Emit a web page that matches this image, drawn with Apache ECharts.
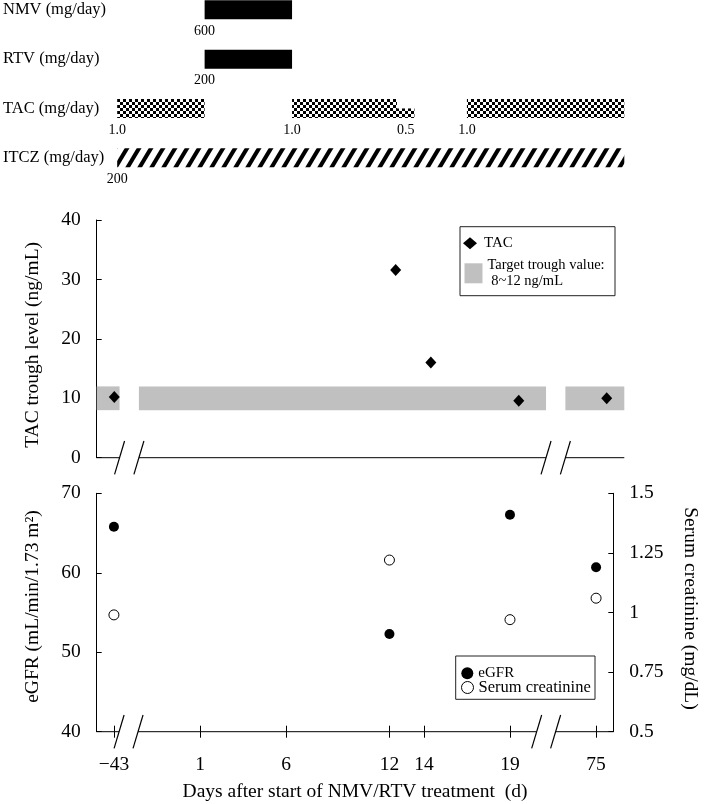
<!DOCTYPE html>
<html><head><meta charset="utf-8">
<script src="https://cdn.jsdelivr.net/npm/echarts@6/dist/echarts.min.js"></script>
<style>html,body{margin:0;padding:0;background:#fff}#c{width:708px;height:804px}</style>
</head><body><div id="c"></div>
<script>
const FONT = "'Liberation Serif','Times New Roman',serif";

// ---------- data ----------
const regimenRows = ['NMV (mg/day)', 'RTV (mg/day)', 'TAC (mg/day)', 'ITCZ (mg/day)'];
// [startDay, endDay, dose]
const nmvDoses = [[1, 6, 600]];
const rtvDoses = [[1, 6, 200]];
const tacDoses = [[-43, 1, 1.0], [6, 12, 1.0], [12, 13, 0.5], [16, 76, 1.0]];
const itczDoses = [[-43, 76, 200]];

const dayTicks = [-43, 1, 6, 12, 14, 19, 75];
const dayTickLabels = ['\u221243', '1', '6', '12', '14', '19', '75'];

const tacDays = [-43, 12, 14, 19, 75];
const tacTrough = [10.2, 31.6, 16.0, 9.6, 10.0];
const targetTrough = [8, 12];

const renalDays = [-43, 12, 19, 75];
const egfr = [65.8, 52.3, 67.3, 60.7];
const creatinine = [0.99, 1.22, 0.97, 1.06];

// ---------- broken time axis ----------
function xPos(day) { if (day < -20) return day + 39; if (day > 40) return day - 51; return day; }
const X_MIN = -5, X_MAX = 25;
const breakGaps = [[-3.7, -2.6], [20.55, 21.65]];
const axisSegments = [[X_MIN, breakGaps[0][0]], [breakGaps[0][1], breakGaps[1][0]], [breakGaps[1][1], X_MAX]];
const tickPos = dayTicks.map(xPos);

// ---------- patterns ----------
function checkerCanvas() {
  const c = document.createElement('canvas'); c.width = 6; c.height = 6;
  const g = c.getContext('2d');
  g.fillStyle = '#fff'; g.fillRect(0, 0, 6, 6);
  g.fillStyle = '#000'; g.fillRect(0, 0, 3, 3); g.fillRect(3, 3, 3, 3);
  return c;
}
function hatchCanvas() {
  const W = 12, H = 20;
  const c = document.createElement('canvas'); c.width = W; c.height = H;
  const g = c.getContext('2d');
  g.fillStyle = '#fff'; g.fillRect(0, 0, W, H);
  g.strokeStyle = '#000'; g.lineWidth = 4;
  [-W, 0, W].forEach(x0 => {
    g.beginPath(); g.moveTo(x0 - W * 0.5, H * 1.5); g.lineTo(x0 + W * 1.5, -H * 0.5); g.stroke();
  });
  return c;
}
const checkerFill = { image: checkerCanvas(), repeat: 'repeat' };
const hatchFill = { image: hatchCanvas(), repeat: 'repeat' };

function regimenSeries(rowIdx, doses, fill, fullDose, fmt) {
  return {
    type: 'custom', xAxisIndex: 0, yAxisIndex: 0, clip: false, silent: true,
    data: doses.map(d => [xPos(d[0]), xPos(d[1]), d[2]]),
    renderItem(params, api) {
      const a = api.coord([api.value(0), rowIdx]);
      const b = api.coord([api.value(1), rowIdx]);
      const full = 19;
      const h = full * api.value(2) / fullDose;
      const bottom = a[1] + full / 2;
      const w = b[0] - a[0];
      const lx = w < 30 ? a[0] + w / 2 : a[0];
      return {
        type: 'group', children: [
          { type: 'rect', shape: { x: a[0], y: bottom - h, width: w, height: h }, style: { fill: fill } },
          { type: 'text', style: { x: lx, y: bottom + 12, text: fmt(doses[params.dataIndex][2]), font: '14px ' + FONT, fill: '#000', align: 'center', verticalAlign: 'middle' } }
        ]
      };
    }
  };
}

function brokenAxis(xi, yi, yBase) {
  return {
    type: 'custom', xAxisIndex: xi, yAxisIndex: yi, clip: false, silent: true, z: 5,
    data: [[0]],
    renderItem(params, api) {
      const children = [];
      axisSegments.forEach(s => {
        const a = api.coord([s[0], yBase]), b = api.coord([s[1], yBase]);
        children.push({ type: 'line', shape: { x1: a[0], y1: a[1], x2: b[0], y2: b[1] }, style: { stroke: '#000', lineWidth: 1 } });
      });
      breakGaps.flat().forEach(x => {
        const p = api.coord([x, yBase]);
        children.push({ type: 'line', shape: { x1: p[0] - 5, y1: p[1] + 16.7, x2: p[0] + 5, y2: p[1] - 16.7 }, style: { stroke: '#000', lineWidth: 1.2 } });
      });
      return { type: 'group', children };
    }
  };
}

const axisText = { color: '#000', fontSize: 19.5, fontFamily: FONT };
const blackLine = { lineStyle: { color: '#000', width: 1 } };
const TARGET_NAME = 'Target trough value:\n 8~12 ng/mL';

const option = {
  animation: false,
  backgroundColor: '#fff',
  textStyle: { fontFamily: FONT },
  grid: [
    { left: 96.7, right: 83.7, top: 0, height: 182.4 },
    { left: 96.7, right: 83.7, top: 220, bottom: 346.3 },
    { left: 96.7, right: 83.7, top: 493.3, bottom: 72.3 }
  ],
  xAxis: [
    { gridIndex: 0, type: 'value', min: X_MIN, max: X_MAX, show: false },
    { gridIndex: 1, type: 'value', position: 'bottom', min: X_MIN, max: X_MAX, axisLine: { show: false, onZero: false }, axisTick: { show: false }, axisLabel: { show: false }, splitLine: { show: false } },
    {
      gridIndex: 2, type: 'value', position: 'bottom', min: X_MIN, max: X_MAX, axisLine: { show: false, onZero: false }, splitLine: { show: false },
      axisTick: { show: true, customValues: tickPos, length: 6, lineStyle: { color: '#000' } },
      axisLabel: Object.assign({ customValues: tickPos, margin: 23, formatter: v => { const i = tickPos.findIndex(p => Math.abs(p - v) < 1e-6); return i >= 0 ? dayTickLabels[i] : ''; } }, axisText),
      name: 'Days after start of NMV/RTV treatment  (d)', nameLocation: 'middle', nameGap: 50,
      nameTextStyle: axisText
    },
    {
      gridIndex: 2, type: 'value', position: 'bottom', min: X_MIN, max: X_MAX, axisLine: { show: false, onZero: false }, splitLine: { show: false },
      axisLabel: { show: false },
      axisTick: { show: true, inside: true, customValues: tickPos, length: 6, lineStyle: { color: '#000' } }
    }
  ],
  yAxis: [
    {
      gridIndex: 0, type: 'value', min: -0.2, max: 3.5, inverse: true,
      axisLine: { show: false, onZero: false }, axisTick: { show: false }, splitLine: { show: false },
      axisLabel: { customValues: [0, 1, 2, 3], formatter: v => regimenRows[Math.round(v)], align: 'left', margin: 96.7, color: '#000', fontSize: 16.5, fontFamily: FONT }
    },
    {
      gridIndex: 1, type: 'value', min: 0, max: 40, interval: 10,
      axisLine: Object.assign({ show: true, onZero: false }, blackLine), axisTick: Object.assign({ show: true, inside: true, length: 5 }, blackLine),
      splitLine: { show: false }, axisLabel: Object.assign({ margin: 16 }, axisText),
      name: 'TAC trough level (ng/mL)', nameLocation: 'middle', nameGap: 53.7,
      nameTextStyle: Object.assign({ padding: [0, 12, 0, 0] }, axisText)
    },
    {
      gridIndex: 2, type: 'value', min: 40, max: 70, interval: 10,
      axisLine: Object.assign({ show: true, onZero: false }, blackLine), axisTick: Object.assign({ show: true, inside: true, length: 5 }, blackLine),
      splitLine: { show: false }, axisLabel: Object.assign({ margin: 16 }, axisText),
      name: 'eGFR (mL/min/1.73 m\u00b2)', nameLocation: 'middle', nameGap: 53.7,
      nameTextStyle: Object.assign({ padding: [0, 0, 0, 12] }, axisText)
    },
    {
      gridIndex: 2, type: 'value', position: 'right', min: 0.5, max: 1.5, interval: 0.25,
      axisLine: Object.assign({ show: true, onZero: false }, blackLine), axisTick: Object.assign({ show: true, inside: true, length: 5 }, blackLine),
      splitLine: { show: false }, axisLabel: Object.assign({ margin: 16 }, axisText),
      name: 'Serum creatinine (mg/dL)', nameLocation: 'middle', nameGap: 66.7, nameRotate: -90,
      nameTextStyle: Object.assign({ padding: [0, 8, 0, 0] }, axisText)
    }
  ],
  legend: [
    { left: 463, top: 235.7, padding: 0, selectedMode: false, itemWidth: 18, itemHeight: 12, symbolKeepAspect: true,
      data: [{ name: 'TAC', icon: 'path://M0,-6L7,0L0,6L-7,0Z', itemStyle: { color: '#000', opacity: 1 } }], textStyle: { color: '#000', fontSize: 15, fontFamily: FONT } },
    { left: 464.5, top: 257.3, padding: 0, selectedMode: false, itemWidth: 18, itemHeight: 20,
      data: [{ name: TARGET_NAME, icon: 'rect', itemStyle: { color: '#c0c0c0' } }],
      textStyle: { color: '#000', fontSize: 14.5, fontFamily: FONT, lineHeight: 16 } },
    { left: 461.3, top: 665.7, padding: 0, selectedMode: false, itemWidth: 12, itemHeight: 12,
      data: [{ name: 'eGFR', icon: 'circle', itemStyle: { color: '#000', opacity: 1 } }], textStyle: { color: '#000', fontSize: 15, fontFamily: FONT } },
    { left: 461, top: 679, padding: 0, selectedMode: false, itemWidth: 12, itemHeight: 12,
      data: [{ name: 'Serum creatinine', icon: 'circle', itemStyle: { color: '#fff', borderColor: '#000', borderWidth: 1, opacity: 1 } }],
      textStyle: { color: '#000', fontSize: 16.5, fontFamily: FONT } }
  ],
  graphic: [
    { type: 'rect', shape: { x: 460, y: 226.7, width: 155, height: 69 }, style: { fill: 'none', stroke: '#222', lineWidth: 1 } },
    { type: 'rect', shape: { x: 455.7, y: 656, width: 139.3, height: 43.3 }, style: { fill: 'none', stroke: '#222', lineWidth: 1 } }
  ],
  series: [
    regimenSeries(0, nmvDoses, '#000', 600, v => String(v)),
    regimenSeries(1, rtvDoses, '#000', 200, v => String(v)),
    regimenSeries(2, tacDoses, checkerFill, 1.0, v => v.toFixed(1)),
    regimenSeries(3, itczDoses, hatchFill, 200, v => String(v)),
    {
      name: TARGET_NAME, type: 'custom', xAxisIndex: 1, yAxisIndex: 1, silent: true, z: 1,
      itemStyle: { color: '#c0c0c0' },
      data: axisSegments.map(s => [s[0], s[1]]),
      renderItem(params, api) {
        const a = api.coord([api.value(0), targetTrough[1]]);
        const b = api.coord([api.value(1), targetTrough[0]]);
        return { type: 'rect', shape: { x: a[0], y: a[1], width: b[0] - a[0], height: b[1] - a[1] }, style: { fill: '#c0c0c0' } };
      }
    },
    {
      name: 'TAC', type: 'scatter', xAxisIndex: 1, yAxisIndex: 1, z: 3, symbol: 'diamond', symbolSize: [11, 12],
      itemStyle: { color: '#000', opacity: 1 }, data: tacDays.map((d, i) => [xPos(d), tacTrough[i]])
    },
    brokenAxis(1, 1, 0),
    {
      name: 'eGFR', type: 'scatter', xAxisIndex: 2, yAxisIndex: 2, symbol: 'circle', symbolSize: 10,
      itemStyle: { color: '#000', opacity: 1 }, data: renalDays.map((d, i) => [xPos(d), egfr[i]])
    },
    {
      name: 'Serum creatinine', type: 'scatter', xAxisIndex: 2, yAxisIndex: 3, symbol: 'circle', symbolSize: 10,
      itemStyle: { color: '#fff', borderColor: '#000', borderWidth: 1, opacity: 1 }, data: renalDays.map((d, i) => [xPos(d), creatinine[i]])
    },
    brokenAxis(2, 2, 40)
  ]
};

const chart = echarts.init(document.getElementById('c'), null, { renderer: 'canvas' });
chart.setOption(option);
</script>
</body></html>
